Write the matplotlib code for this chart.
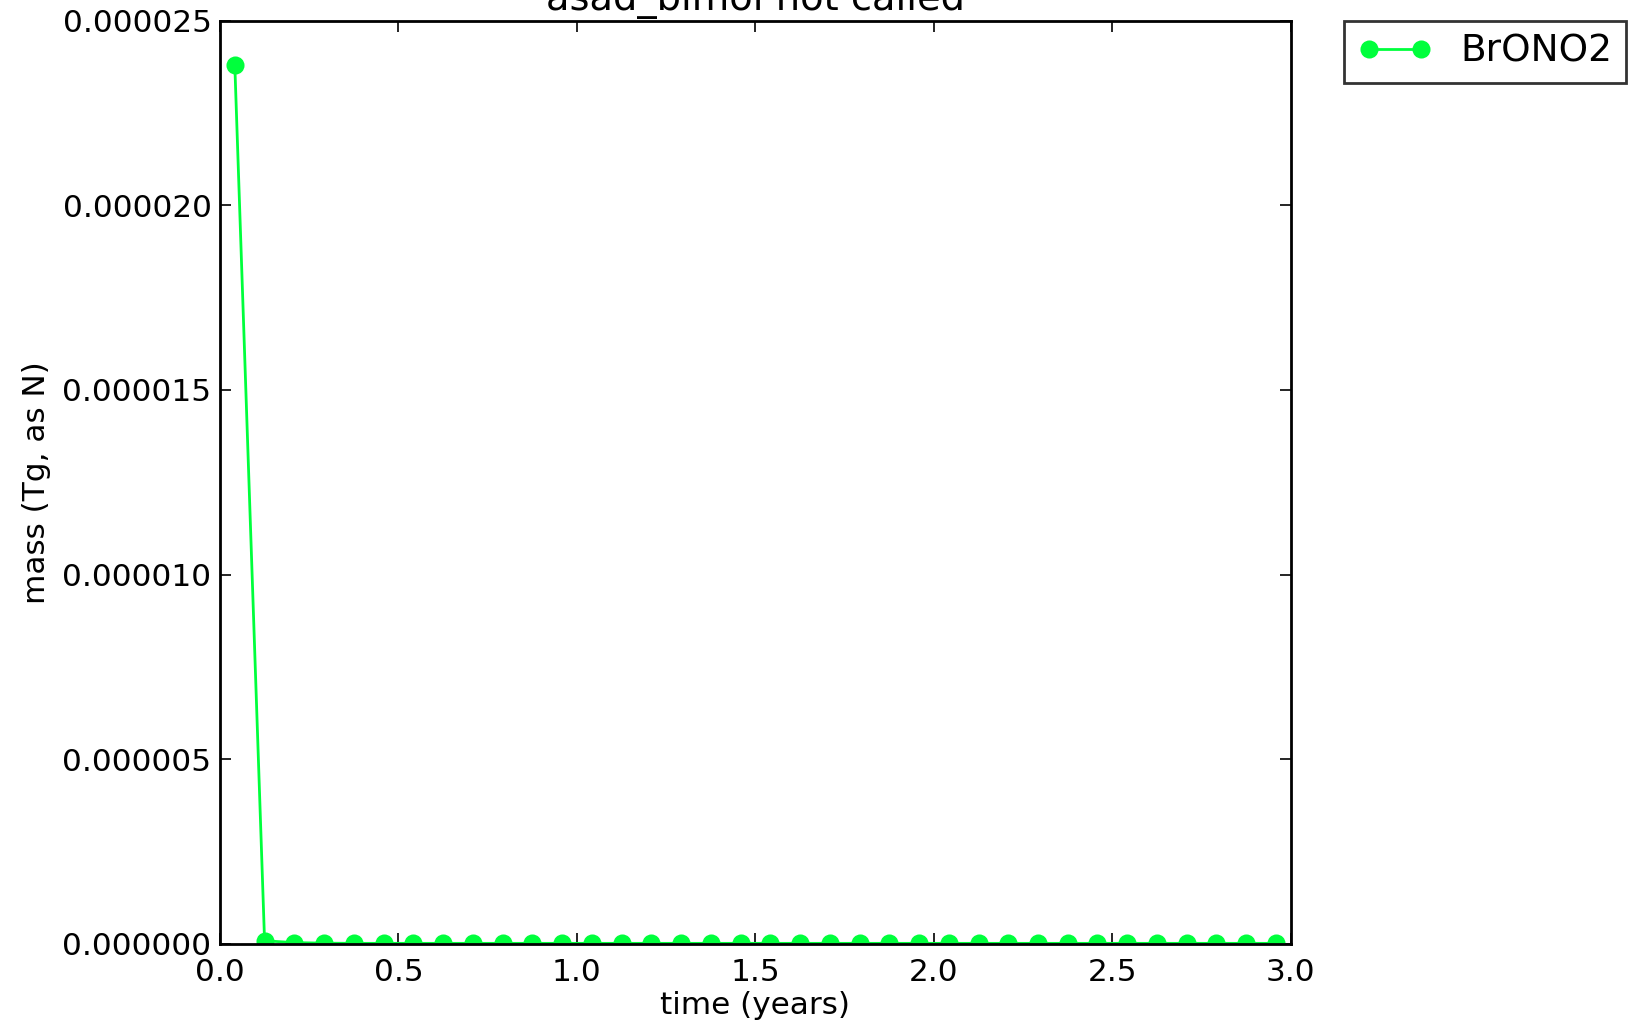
import matplotlib
matplotlib.use("Agg")
import matplotlib.pyplot as plt
from matplotlib.ticker import FormatStrFormatter

# monthly time points (years)
time_years = [(i + 0.5) / 12 for i in range(36)]
brono2_mass = [2.38e-5, 8e-8, 3e-8, 1.5e-8, 1e-8, 1e-8, 1e-8, 1e-8, 1e-8, 1e-8,
               1e-8, 1e-8, 1e-8, 1e-8, 1e-8, 1e-8, 1e-8, 1e-8, 1e-8, 1e-8,
               1e-8, 1e-8, 1e-8, 1e-8, 1e-8, 1e-8, 1e-8, 1e-8, 1e-8, 1e-8,
               1e-8, 1e-8, 1e-8, 1e-8, 1e-8, 1e-8]
series_label = "BrONO2"
title = "asad_bimol not called"

plt.rcParams['font.family'] = ['DejaVu Sans']
plt.rcParams['font.size'] = 11.2

fig = plt.figure(figsize=(8.17, 5.13), dpi=200, facecolor='white')
ax = fig.add_axes([0.1346, 0.0802, 0.790 - 0.1346, 0.9797 - 0.0802])
ax.plot(time_years, brono2_mass, '-o', color='#00ff3c', markeredgecolor='#00ff3c',
        markersize=5.5, linewidth=1.0, label=series_label)
ax.set_xlim(0, 3.0)
ax.set_ylim(0, 0.000025)
ax.set_xticks([0.0, 0.5, 1.0, 1.5, 2.0, 2.5, 3.0])
ax.set_yticks([0, 0.000005, 0.00001, 0.000015, 0.00002, 0.000025])
ax.xaxis.set_major_formatter(FormatStrFormatter('%.1f'))
ax.yaxis.set_major_formatter(FormatStrFormatter('%.6f'))
ax.tick_params(direction='in', top=True, right=True, length=4, width=0.6, labelsize=11.2)
ax.tick_params(axis='y', pad=3)
ax.tick_params(axis='x', pad=5)
for s in ax.spines.values():
    s.set_linewidth(1.0)
ax.set_xlabel('time (years)', fontsize=11.2, labelpad=1.5)
ax.set_ylabel('mass (Tg, as N)', fontsize=11.2, labelpad=4)
ax.set_title(title, fontsize=13.8, pad=4)
leg = ax.legend(loc='upper left', bbox_to_anchor=(1.05, 1.0), frameon=True, fancybox=False,
                edgecolor='black', borderaxespad=0.0, numpoints=2, handlelength=2.0,
                handletextpad=0.75, borderpad=0.35, fontsize=13.5)
leg.get_frame().set_linewidth(1.0)
fig.savefig('out.png', dpi=200, facecolor='white')
